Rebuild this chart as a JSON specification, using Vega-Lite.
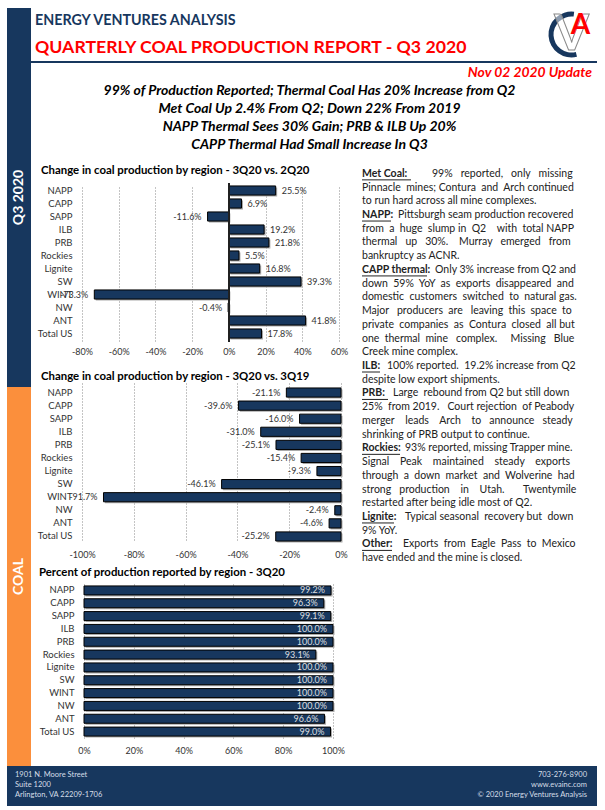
{"$schema":"https://vega.github.io/schema/vega-lite/v6.json","padding":{"left":7,"top":8,"right":0,"bottom":0},"background":"white","config":{"view":{"stroke":null},"font":"Lato","text":{"font":"Lato"},"axis":{"labelFont":"Lato","labelFlush":false}},"spacing":0,"vconcat":[{"spacing":0,"hconcat":[{"width":24,"height":758,"data":{"values":[{"section":"Q3 2020"},{"section":"COAL"}]},"encoding":{"y":{"field":"section","type":"nominal","sort":null,"axis":null,"scale":{"paddingInner":0,"paddingOuter":0}}},"layer":[{"mark":{"type":"rect"},"encoding":{"fill":{"field":"section","type":"nominal","legend":null,"scale":{"domain":["Q3 2020","COAL"],"range":["#17375e","#fb8f3c"]}}}},{"mark":{"type":"text","angle":270,"fontWeight":"bold","fontSize":14,"color":"white"},"encoding":{"text":{"field":"section"}}}]},{"spacing":0,"vconcat":[{"spacing":0,"hconcat":[{"width":515,"height":53,"data":{"values":[{"t":"ENERGY VENTURES ANALYSIS","c":"brand"},{"t":"QUARTERLY COAL PRODUCTION REPORT - Q3 2020","c":"report"}]},"encoding":{"y":{"field":"c","type":"nominal","sort":null,"axis":null,"scale":{"paddingInner":0,"paddingOuter":0}},"x":{"datum":0,"type":"quantitative","axis":null,"scale":{"domain":[0,1]}},"text":{"field":"t"}},"layer":[{"transform":[{"filter":"datum.c=='brand'"}],"mark":{"type":"text","align":"left","dx":4,"fontWeight":"bold","fontSize":14.3,"color":"#17375e"}},{"transform":[{"filter":"datum.c=='report'"}],"mark":{"type":"text","align":"left","dx":4,"fontWeight":"bold","fontSize":17.7,"color":"#ff0000"}}]},{"width":51,"height":53,"data":{"values":[{"l":"V"}]},"layer":[{"mark":{"type":"arc","innerRadius":18,"outerRadius":23,"theta":2.9,"theta2":6.4,"color":"#17375e"},"encoding":{}},{"mark":{"type":"text","text":"V","fontSize":50,"fontWeight":"bold","fill":"white","fillOpacity":0.5,"stroke":"#8a8a8a","strokeWidth":1},"encoding":{}},{"mark":{"type":"text","text":"A","fontSize":28,"fontWeight":"bold","color":"#ff0000","dx":9,"dy":-9},"encoding":{}}]}]},{"width":566,"height":2,"data":{"values":[{"l":"rule"}]},"mark":{"type":"rect","color":"#17375e"},"encoding":{}},{"width":566,"height":102,"data":{"values":[{"r":"0","t":"Nov 02 2020 Update"},{"r":"1","t":"99% of Production Reported; Thermal Coal Has 20% Increase from Q2"},{"r":"2","t":"Met Coal Up 2.4% From Q2; Down 22% From 2019"},{"r":"3","t":"NAPP Thermal Sees 30% Gain; PRB & ILB Up 20%"},{"r":"4","t":"CAPP Thermal Had Small Increase In Q3"}]},"encoding":{"y":{"field":"r","type":"nominal","axis":null,"scale":{"domain":["0","1","2","3","4"],"range":[1,91],"paddingInner":0,"paddingOuter":0}},"text":{"field":"t"}},"layer":[{"transform":[{"filter":"datum.r=='0'"}],"mark":{"type":"text","align":"right","dx":-5,"fontWeight":"bold","fontStyle":"italic","fontSize":13.9,"color":"#ff0000"},"encoding":{"x":{"datum":1,"type":"quantitative","axis":null,"scale":{"domain":[0,1]}}}},{"transform":[{"filter":"datum.r!='0'"}],"mark":{"type":"text","align":"center","dx":-4.5,"fontWeight":"bold","fontStyle":"italic","fontSize":14,"color":"black"}}]},{"spacing":0,"hconcat":[{"width":6,"height":1,"data":{"values":[{"l":"spacer"}]},"mark":{"type":"rect","opacity":0},"encoding":{}},{"bounds":"flush","spacing":41,"vconcat":[{"width":257,"height":159,"title":{"text":"Change in coal production by region - 3Q20 vs. 2Q20","anchor":"start","frame":"group","dx":-41,"offset":6,"fontSize":11.4,"font":"Lato","fontWeight":"bold","color":"black"},"data":{"values":[{"region":"NAPP","change":25.5,"label":"25.5%"},{"region":"CAPP","change":6.9,"label":"6.9%"},{"region":"SAPP","change":-11.6,"label":"-11.6%"},{"region":"ILB","change":19.2,"label":"19.2%"},{"region":"PRB","change":21.8,"label":"21.8%"},{"region":"Rockies","change":5.5,"label":"5.5%"},{"region":"Lignite","change":16.8,"label":"16.8%"},{"region":"SW","change":39.3,"label":"39.3%"},{"region":"WINT","change":-73.3,"label":"-73.3%"},{"region":"NW","change":-0.4,"label":"-0.4%"},{"region":"ANT","change":41.8,"label":"41.8%"},{"region":"Total US","change":17.8,"label":"17.8%"}]},"encoding":{"y":{"field":"region","type":"nominal","sort":null,"title":null,"scale":{"range":[1,157],"paddingInner":0.3,"paddingOuter":0.15},"axis":{"ticks":false,"domain":false,"labelPadding":10,"labelFontSize":9.5,"labelColor":"#333333"}},"x":{"field":"change","type":"quantitative","title":null,"scale":{"domain":[-80,60],"nice":false},"axis":{"values":[-80,-60,-40,-20,0,20,40,60],"labelExpr":"datum.value+'%'","ticks":false,"domain":false,"grid":true,"gridDash":[1,2],"gridColor":"#888888","labelPadding":5,"labelFontSize":9,"labelColor":"#333333"}}},"layer":[{"mark":{"type":"bar","color":"#aaaaaa","xOffset":1.5,"yOffset":1.5}},{"mark":{"type":"bar","color":"#17375e","stroke":"black","strokeWidth":1}},{"mark":{"type":"rule","color":"#222222"},"encoding":{"x":{"datum":0},"y":{}}},{"transform":[{"filter":"datum.change>=0"}],"mark":{"type":"text","align":"left","dx":6,"fontSize":9,"color":"#333333"},"encoding":{"text":{"field":"label"}}},{"transform":[{"filter":"datum.change<0"}],"mark":{"type":"text","align":"right","dx":-6,"fontSize":9,"color":"#333333"},"encoding":{"text":{"field":"label"}}}]},{"width":259,"height":160,"title":{"text":"Change in coal production by region - 3Q20 vs. 3Q19","anchor":"start","frame":"group","dx":-41,"offset":1,"fontSize":11.4,"font":"Lato","fontWeight":"bold","color":"black"},"data":{"values":[{"region":"NAPP","change":-21.1,"label":"-21.1%"},{"region":"CAPP","change":-39.6,"label":"-39.6%"},{"region":"SAPP","change":-16.0,"label":"-16.0%"},{"region":"ILB","change":-31.0,"label":"-31.0%"},{"region":"PRB","change":-25.1,"label":"-25.1%"},{"region":"Rockies","change":-15.4,"label":"-15.4%"},{"region":"Lignite","change":-9.3,"label":"-9.3%"},{"region":"SW","change":-46.1,"label":"-46.1%"},{"region":"WINT","change":-91.7,"label":"-91.7%"},{"region":"NW","change":-2.4,"label":"-2.4%"},{"region":"ANT","change":-4.6,"label":"-4.6%"},{"region":"Total US","change":-25.2,"label":"-25.2%"}]},"encoding":{"y":{"field":"region","type":"nominal","sort":null,"title":null,"scale":{"range":[3,160],"paddingInner":0.3,"paddingOuter":0.15},"axis":{"ticks":false,"domain":false,"labelPadding":10,"labelFontSize":9.5,"labelColor":"#333333"}},"x":{"field":"change","type":"quantitative","title":null,"scale":{"domain":[-100,0],"nice":false},"axis":{"values":[-100,-80,-60,-40,-20,0],"labelExpr":"datum.value+'%'","ticks":false,"domain":false,"grid":true,"gridDash":[1,2],"gridColor":"#888888","labelPadding":7,"labelFontSize":9,"labelColor":"#333333"}}},"layer":[{"mark":{"type":"bar","color":"#aaaaaa","xOffset":1.5,"yOffset":1.5}},{"mark":{"type":"bar","color":"#17375e","stroke":"black","strokeWidth":1}},{"mark":{"type":"text","align":"right","dx":-6,"fontSize":9,"color":"#333333"},"encoding":{"text":{"field":"label"}}}]},{"width":251,"height":154,"title":{"text":"Percent of production reported by region - 3Q20","anchor":"start","frame":"group","dx":-43,"offset":6,"fontSize":11.4,"font":"Lato","fontWeight":"bold","color":"black"},"data":{"values":[{"region":"NAPP","pct":99.2,"label":"99.2%"},{"region":"CAPP","pct":96.3,"label":"96.3%"},{"region":"SAPP","pct":99.1,"label":"99.1%"},{"region":"ILB","pct":100,"label":"100.0%"},{"region":"PRB","pct":100,"label":"100.0%"},{"region":"Rockies","pct":93.1,"label":"93.1%"},{"region":"Lignite","pct":100,"label":"100.0%"},{"region":"SW","pct":100,"label":"100.0%"},{"region":"WINT","pct":100,"label":"100.0%"},{"region":"NW","pct":100,"label":"100.0%"},{"region":"ANT","pct":96.6,"label":"96.6%"},{"region":"Total US","pct":99.0,"label":"99.0%"}]},"encoding":{"y":{"field":"region","type":"nominal","sort":null,"title":null,"scale":{"paddingInner":0.3,"paddingOuter":0.15},"axis":{"ticks":false,"domain":false,"labelPadding":8,"labelFontSize":9.5,"labelColor":"#333333"}},"x":{"field":"pct","type":"quantitative","title":null,"scale":{"domain":[0,100],"nice":false,"range":[2,251]},"axis":{"values":[0,20,40,60,80,100],"labelExpr":"datum.value+'%'","ticks":false,"domain":false,"grid":true,"gridDash":[1,2],"gridColor":"#888888","labelPadding":8,"labelFontSize":9,"labelColor":"#333333"}}},"layer":[{"mark":{"type":"bar","color":"#aaaaaa","xOffset":1.5,"yOffset":1.5}},{"mark":{"type":"bar","color":"#17375e","stroke":"black","strokeWidth":1}},{"mark":{"type":"text","align":"right","dx":-6,"fontSize":9,"color":"#dddddd"},"encoding":{"text":{"field":"label"}}}]}]},{"width":13,"height":1,"data":{"values":[{"l":"spacer"}]},"mark":{"type":"rect","opacity":0},"encoding":{}},{"width":213,"height":382,"data":{"values":[{"line":1,"head":"Met Coal:","body":"99%\u00a0\u00a0 reported,\u00a0\u00a0 only\u00a0\u00a0 missing"},{"line":2,"body":"Pinnacle\u00a0 mines; Contura\u00a0 and\u00a0 Arch continued"},{"line":3,"body":"to run hard across all mine complexes."},{"line":4,"head":"NAPP:","body":"Pittsburgh seam production recovered"},{"line":5,"body":"from\u00a0 a\u00a0 huge\u00a0 slump in\u00a0 Q2\u00a0\u00a0\u00a0 with\u00a0 total NAPP"},{"line":6,"body":"thermal\u00a0\u00a0 up\u00a0\u00a0 30%.\u00a0\u00a0\u00a0 Murray\u00a0\u00a0 emerged\u00a0\u00a0 from"},{"line":7,"body":"bankruptcy as ACNR."},{"line":8,"head":"CAPP thermal:","body":"Only 3% increase from Q2 and"},{"line":9,"body":"down\u00a0 59%\u00a0 YoY\u00a0 as\u00a0 exports\u00a0 disappeared\u00a0 and"},{"line":10,"body":"domestic\u00a0 customers\u00a0 switched\u00a0 to\u00a0 natural gas."},{"line":11,"body":"Major\u00a0\u00a0 producers\u00a0 are\u00a0\u00a0 leaving\u00a0 this\u00a0 space\u00a0 to"},{"line":12,"body":"private\u00a0 companies\u00a0 as\u00a0 Contura\u00a0 closed\u00a0 all but"},{"line":13,"body":"one\u00a0 thermal\u00a0 mine\u00a0\u00a0 complex.\u00a0\u00a0\u00a0\u00a0 Missing\u00a0\u00a0 Blue"},{"line":14,"body":"Creek mine complex."},{"line":15,"head":"ILB:","body":"100% reported.\u00a0 19.2% increase from Q2"},{"line":16,"body":"despite low export shipments."},{"line":17,"head":"PRB:","body":"Large\u00a0 rebound from Q2 but still down"},{"line":18,"body":"25%\u00a0 from 2019.\u00a0\u00a0 Court rejection\u00a0 of Peabody"},{"line":19,"body":"merger\u00a0\u00a0\u00a0 leads\u00a0\u00a0\u00a0 Arch\u00a0\u00a0\u00a0 to\u00a0\u00a0 announce\u00a0\u00a0 steady"},{"line":20,"body":"shrinking of PRB output to continue."},{"line":21,"head":"Rockies:","body":"93% reported, missing Trapper mine."},{"line":22,"body":"Signal\u00a0\u00a0\u00a0 Peak\u00a0\u00a0\u00a0 maintained\u00a0\u00a0\u00a0 steady\u00a0\u00a0\u00a0 exports"},{"line":23,"body":"through\u00a0 a\u00a0 down\u00a0 market\u00a0 and\u00a0 Wolverine\u00a0 had"},{"line":24,"body":"strong\u00a0\u00a0 production\u00a0\u00a0\u00a0 in\u00a0\u00a0\u00a0 Utah.\u00a0\u00a0\u00a0\u00a0\u00a0\u00a0 Twentymile"},{"line":25,"body":"restarted after being idle most of Q2."},{"line":26,"head":"Lignite:","body":"Typical seasonal\u00a0 recovery but\u00a0 down"},{"line":27,"body":"9% YoY."},{"line":28,"head":"Other:","body":"Exports\u00a0 from\u00a0 Eagle\u00a0 Pass\u00a0 to\u00a0 Mexico"},{"line":29,"body":"have ended and the mine is closed."}]},"encoding":{"y":{"field":"line","type":"ordinal","axis":null,"scale":{"range":[-16,382],"paddingInner":0,"paddingOuter":0}},"x":{"datum":0,"type":"quantitative","axis":null,"scale":{"domain":[0,213],"nice":false}},"text":{"field":"body"}},"layer":[{"transform":[{"filter":"!isValid(datum.head)"}],"mark":{"type":"text","align":"left","fontSize":10.5,"color":"#222222"}},{"transform":[{"filter":"isValid(datum.head)"}],"mark":{"type":"text","align":"left","fontSize":10.5,"fontWeight":"bold","color":"#222222"},"encoding":{"text":{"field":"head"}}},{"transform":[{"filter":"datum.line==1"}],"mark":{"type":"text","align":"left","fontSize":10.5,"color":"#222222","dx":70}},{"transform":[{"filter":"datum.line==4"}],"mark":{"type":"text","align":"left","fontSize":10.5,"color":"#222222","dx":36}},{"transform":[{"filter":"datum.line==8"}],"mark":{"type":"text","align":"left","fontSize":10.5,"color":"#222222","dx":73}},{"transform":[{"filter":"datum.line==15"}],"mark":{"type":"text","align":"left","fontSize":10.5,"color":"#222222","dx":25}},{"transform":[{"filter":"datum.line==17"}],"mark":{"type":"text","align":"left","fontSize":10.5,"color":"#222222","dx":31}},{"transform":[{"filter":"datum.line==21"}],"mark":{"type":"text","align":"left","fontSize":10.5,"color":"#222222","dx":43}},{"transform":[{"filter":"datum.line==26"}],"mark":{"type":"text","align":"left","fontSize":10.5,"color":"#222222","dx":43}},{"transform":[{"filter":"datum.line==28"}],"mark":{"type":"text","align":"left","fontSize":10.5,"color":"#222222","dx":41}},{"transform":[{"filter":"datum.line==1"}],"mark":{"type":"rule","color":"#222222","yOffset":6},"encoding":{"x2":{"datum":49},"text":null}},{"transform":[{"filter":"datum.line==4"}],"mark":{"type":"rule","color":"#222222","yOffset":6},"encoding":{"x2":{"datum":29},"text":null}},{"transform":[{"filter":"datum.line==8"}],"mark":{"type":"rule","color":"#222222","yOffset":6},"encoding":{"x2":{"datum":65},"text":null}},{"transform":[{"filter":"datum.line==15"}],"mark":{"type":"rule","color":"#222222","yOffset":6},"encoding":{"x2":{"datum":18},"text":null}},{"transform":[{"filter":"datum.line==17"}],"mark":{"type":"rule","color":"#222222","yOffset":6},"encoding":{"x2":{"datum":26},"text":null}},{"transform":[{"filter":"datum.line==21"}],"mark":{"type":"rule","color":"#222222","yOffset":6},"encoding":{"x2":{"datum":38},"text":null}},{"transform":[{"filter":"datum.line==26"}],"mark":{"type":"rule","color":"#222222","yOffset":6},"encoding":{"x2":{"datum":32},"text":null}},{"transform":[{"filter":"datum.line==28"}],"mark":{"type":"rule","color":"#222222","yOffset":6},"encoding":{"x2":{"datum":30},"text":null}}]}]}]}]},{"width":590,"height":40,"view":{"fill":"#17375e"},"data":{"values":[{"r":"0","left":"1901 N. Moore Street","right":"703-276-8900"},{"r":"1","left":"Suite 1200","right":"www.evainc.com"},{"r":"2","left":"Arlington, VA 22209-1706","right":"© 2020 Energy Ventures Analysis"}]},"encoding":{"y":{"field":"r","type":"nominal","axis":null,"scale":{"domain":["0","1","2"],"range":[4,34],"paddingInner":0,"paddingOuter":0}}},"layer":[{"mark":{"type":"text","align":"left","dx":8,"fontSize":7.5,"color":"#d5dee8"},"encoding":{"x":{"datum":0,"type":"quantitative","axis":null,"scale":{"domain":[0,1]}},"text":{"field":"left"}}},{"mark":{"type":"text","align":"right","dx":-10,"fontSize":7.5,"color":"#d5dee8"},"encoding":{"x":{"datum":1,"type":"quantitative","axis":null,"scale":{"domain":[0,1]}},"text":{"field":"right"}}}]}]}
